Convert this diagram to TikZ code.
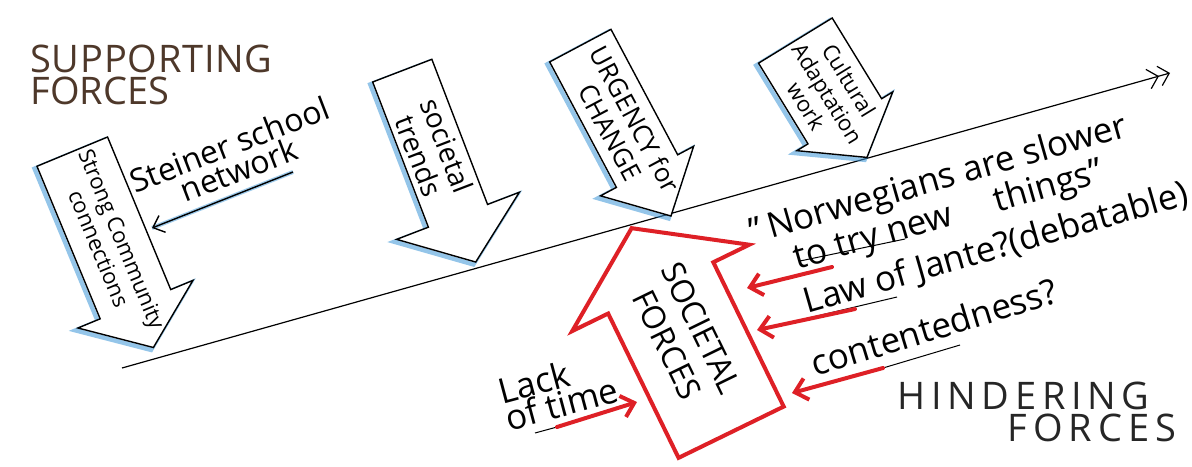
\documentclass[tikz,border=0pt]{standalone}
\usepackage{fontspec}
\setmainfont{Open Sans}
\usetikzlibrary{shapes.arrows,arrows.meta,calc}
\definecolor{crayonblue}{RGB}{60,150,215}
\definecolor{markerred}{RGB}{222,32,38}
\definecolor{inkbrown}{RGB}{78,56,42}

\begin{document}
\begin{tikzpicture}[x=0.5pt,y=-0.5pt,
  supp/.style={single arrow, draw=black, line width=0.7pt, fill=white, inner sep=0pt,
    single arrow tip angle=106, single arrow head indent=0pt, anchor=tail,
    preaction={draw=crayonblue, line width=2.2pt, opacity=.55,
      transform canvas={shift={(-1.2pt,-1.2pt)}}}},
  hind/.style={single arrow, draw=markerred, line width=2pt, fill=white, inner sep=0pt,
    single arrow tip angle=112, single arrow head indent=0pt, anchor=tail},
  arrowtext/.style={align=center, inner sep=0pt, font=\fontsize{11}{12.5}\selectfont},
  heading/.style={font=\fontsize{19}{16}\selectfont, align=left, inner sep=0pt},
  note/.style={font=\fontsize{17.5}{14}\selectfont, align=center, inner sep=1pt},
  underline/.style={draw=black, line width=0.5pt},
  push/.style={draw=markerred, line width=2pt, line cap=round,
    -{Straight Barb[length=6pt,width=11pt]}},
  ]
  \useasboundingbox (0,0) rectangle (1192,466);

  % Time line
  \coordinate (now) at (122,368);
  \coordinate (goal) at (1170,73);
  \draw[line width=0.6pt,
    -{Straight Barb[length=5pt,width=10pt]Straight Barb[length=5pt,width=10pt]}]
    (now) -- (goal);

  % Titles
  \node[heading, text=inkbrown, anchor=north west] (supp-title) at (30,45)
    {\addfontfeature{LetterSpace=2}SUPPORTING\\FORCES};
  \node[heading, text=black!85, anchor=north west] (hind-title) at (897,382)
    {{\addfontfeature{LetterSpace=15}HINDERING}\\
     \hspace*{55pt}{\addfontfeature{LetterSpace=16}FORCES}};

  % Supporting forces (text height/depth give the shaft width)
  \node[supp, rotate=-67.5, minimum height=106pt, text height=18.75pt, text depth=18.75pt,
    single arrow head extend=12pt] (conn) at (72,151) {};
  \node[arrowtext, rotate=-67.5] (conn-text) at ($(conn.tail)!0.47!(conn.tip)$)
    {Strong Community\\connections};

  \node[supp, rotate=-69, minimum height=102.5pt, text height=15.5pt, text depth=15.5pt,
    single arrow head extend=17pt] (trends) at (402,70) {};
  \node[arrowtext, rotate=-69, font=\fontsize{14}{15}\selectfont] (trends-text)
    at ($(trends.tail)!0.42!(trends.tip)$) {societal\\trends};

  \node[supp, rotate=-62, minimum height=96.5pt, text height=17pt, text depth=17pt,
    single arrow head extend=9pt, single arrow tip angle=92] (urgency) at (580,45) {};
  \node[arrowtext, rotate=-62, font=\fontsize{13}{14}\selectfont] (urgency-text)
    at ($(urgency.tail)!0.47!(urgency.tip)$) {URGENCY for\\CHANGE};

  \node[supp, rotate=-58.5, minimum height=68.5pt, text height=21.25pt, text depth=21.25pt,
    single arrow head extend=6.5pt] (culture) at (795,40) {};
  \node[arrowtext, rotate=-58.5] (culture-text)
    at ($(culture.tail)!0.45!(culture.tip)$) {Cultural\\Adaptation\\work};

  % Steiner school network
  \node[note, rotate=21, font=\fontsize{16}{13.5}\selectfont] (steiner) at (234,157)
    {Steiner school\\network};
  \coordinate (steiner-end) at (293,172);
  \coordinate (steiner-tip) at (152,228);
  \draw[crayonblue, line width=2pt, opacity=.5] (steiner-end) -- (steiner-tip);
  \draw[line width=0.7pt, -{Straight Barb[length=5pt,width=9pt]}] (steiner-end) -- (steiner-tip);

  % Hindering forces
  \node[hind, rotate=-64, shape border rotate=180, minimum height=113.5pt,
    text height=28.25pt, text depth=28.25pt, single arrow head extend=20pt]
    (sf) at (732,434) {};
  \node[arrowtext, rotate=-64, font=\fontsize{16}{19}\selectfont] (sf-text)
    at ($(sf.tail)!0.47!(sf.tip)$) {SOCIETAL\\FORCES};

  \node[note, rotate=16, font=\fontsize{17.5}{12}\selectfont] (norw) at (944,199)
    {"\,Norwegians are slower\\to try new \quad things"};
  \coordinate (norw-a) at (800,261);
  \coordinate (norw-b) at (905,239);
  \coordinate (norw-start) at (832,267);
  \coordinate (norw-tip) at (747,288);
  \draw[underline] (norw-a) -- (norw-b);
  \draw[push] (norw-start) -- (norw-tip);

  \node[note, rotate=16] (jante) at (996,249) {Law of Jante?(debatable)};
  \coordinate (jante-a) at (800,320);
  \coordinate (jante-b) at (897,297);
  \coordinate (jante-start) at (855,309);
  \coordinate (jante-tip) at (757,330);
  \draw[underline] (jante-a) -- (jante-b);
  \draw[push] (jante-start) -- (jante-tip);

  \node[note, rotate=17] (content) at (934,327) {contentedness?};
  \coordinate (content-a) at (883,368);
  \coordinate (content-b) at (960,345);
  \coordinate (content-tip) at (792,393);
  \draw[underline] (content-a) -- (content-b);
  \draw[push] (content-a) -- (content-tip);

  \node[note, rotate=15, align=left] (lack) at (558,390) {Lack\\of time};
  \coordinate (lack-a) at (557,427);
  \coordinate (lack-b) at (535,433);
  \coordinate (lack-tip) at (637,402);
  \draw[underline] (lack-b) -- (lack-a);
  \draw[push] (lack-a) -- (lack-tip);
\end{tikzpicture}
\end{document}
